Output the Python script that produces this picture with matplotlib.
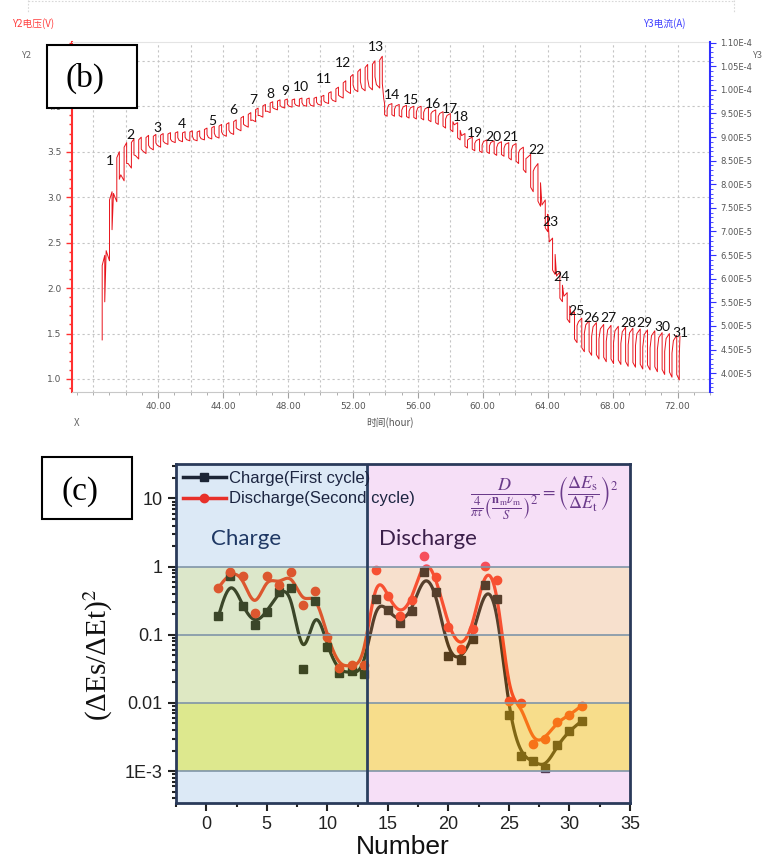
import numpy as np
import matplotlib
matplotlib.use('Agg')
import matplotlib.pyplot as plt
from matplotlib.patches import Rectangle
from matplotlib.lines import Line2D
from matplotlib.ticker import MultipleLocator, FixedLocator, FuncFormatter, LogLocator, NullFormatter

plt.rcParams['mathtext.fontset'] = 'stix'

# ---------------- data: panel (b) GITT voltage profile (one entry per pulse) ----------------
charge_t = [36.55, 37.00, 37.45, 37.90, 38.35, 38.80, 39.25, 39.70, 40.15, 40.60, 41.05, 41.50,
            41.95, 42.40, 42.85, 43.30, 43.75, 44.20, 44.65, 45.10, 45.55, 46.00, 46.45, 46.90,
            47.35, 47.80, 48.25, 48.70, 49.15, 49.60, 50.05, 50.50, 50.95, 51.40, 51.85, 52.30,
            52.75, 53.20, 53.65]
charge_high = [2.36, 3.06, 3.50, 3.60, 3.64, 3.66, 3.68, 3.69, 3.70, 3.71, 3.72, 3.72,
               3.73, 3.73, 3.76, 3.78, 3.80, 3.82, 3.85, 3.89, 3.93, 3.98, 4.02, 4.05,
               4.07, 4.08, 4.08, 4.09, 4.09, 4.10, 4.12, 4.16, 4.21, 4.28, 4.35, 4.41,
               4.46, 4.50, 4.55]
charge_low = [1.43, 2.30, 2.95, 3.18, 3.32, 3.42, 3.48, 3.52, 3.55, 3.58, 3.60, 3.61,
              3.62, 3.62, 3.63, 3.64, 3.65, 3.67, 3.69, 3.73, 3.77, 3.83, 3.88, 3.93,
              3.96, 3.98, 3.99, 4.00, 4.00, 4.00, 4.01, 4.03, 4.05, 4.09, 4.14, 4.16,
              4.17, 4.18, 4.20]
disch_t = [53.95, 54.40, 54.85, 55.30, 55.75, 56.20, 56.65, 57.10, 57.55, 58.00, 58.45, 58.90,
           59.35, 59.80, 60.25, 60.70, 61.15, 61.60, 62.05, 62.50, 62.95, 63.40, 63.85, 64.30,
           64.75, 65.20, 65.65, 66.10, 66.55, 67.00, 67.45, 67.90, 68.35, 68.80, 69.25, 69.70,
           70.15, 70.60, 71.05, 71.50, 71.95]
disch_high = [4.03, 4.03, 4.02, 4.01, 4.00, 4.00, 3.99, 3.96, 3.94, 3.92, 3.82, 3.70,
              3.66, 3.64, 3.63, 3.62, 3.61, 3.60, 3.59, 3.55, 3.47, 3.37, 2.97, 2.55,
              2.18, 1.95, 1.74, 1.67, 1.64, 1.62, 1.60, 1.59, 1.58, 1.57, 1.56, 1.55,
              1.54, 1.53, 1.51, 1.50, 1.48]
disch_low = [3.89, 3.89, 3.88, 3.87, 3.86, 3.85, 3.83, 3.80, 3.76, 3.72, 3.63, 3.54,
             3.51, 3.49, 3.48, 3.46, 3.45, 3.41, 3.37, 3.27, 3.06, 2.90, 2.62, 2.15,
             1.85, 1.62, 1.40, 1.30, 1.26, 1.22, 1.19, 1.17, 1.16, 1.14, 1.13, 1.11,
             1.10, 1.08, 1.05, 1.02, 0.99]
end_hour, end_volt = 72.15, 1.47
label_num = list(range(1, 32))
label_hour = [37.03, 38.30, 39.94, 41.44, 43.35, 44.62, 45.85, 46.94, 47.80, 48.78, 50.20,
              51.38, 53.44, 54.38, 55.55, 56.92, 57.95, 58.67, 59.49, 60.68, 61.71, 63.32,
              64.17, 64.84, 65.75, 66.71, 67.75, 68.97, 69.95, 71.08, 72.15]
label_volt = [3.40, 3.68, 3.76, 3.80, 3.84, 3.96, 4.07, 4.14, 4.17, 4.21, 4.30, 4.48, 4.65,
              4.12, 4.07, 4.02, 3.97, 3.88, 3.71, 3.66, 3.66, 3.52, 2.73, 2.12, 1.75, 1.67,
              1.67, 1.62, 1.62, 1.57, 1.51]

# ---------------- data: panel (c) ----------------
number = list(range(1, 32))
charge_ratio = [0.186, 0.72, 0.26, 0.14, 0.215, 0.43, 0.49, 0.031, 0.31, 0.066, 0.0273,
                0.029, 0.0268, 0.34, 0.23, 0.15, 0.22, 0.84, 0.43, 0.049, 0.043, 0.086,
                0.53, 0.33, 0.0066, 0.00166, 0.0014, 0.0011, 0.0024, 0.0039, 0.0054]
disch_ratio = [0.49, 0.84, 0.74, 0.21, 0.74, 0.54, 0.84, 0.27, 0.44, 0.093, 0.033, 0.036,
               0.036, 0.88, 0.37, 0.19, 0.32, 1.42, 0.71, 0.128, 0.062, 0.12, 1.02, 0.63,
               0.0108, 0.0099, 0.0025, 0.0030, 0.0053, 0.0066, 0.0091]
x_ticks_c = [0, 5, 10, 15, 20, 25, 30, 35]
y_ticks_c = [1e-3, 1e-2, 1e-1, 1, 10]
y_ticklabels_c = ['1E-3', '0.01', '0.1', '1', '10']
band_edges = [3.4e-4, 1e-3, 1e-2, 1e-1, 1, 32]
divider_x = 13.3

W, H = 765, 866
fig = plt.figure(figsize=(W / 100, H / 100), dpi=100)


def fbox(x0, y0, x1, y1):
    return [x0 / W, 1 - y1 / H, (x1 - x0) / W, (y1 - y0) / H]


CJK = ['Noto Sans CJK SC', 'DejaVu Sans']

# faint frame of the instrument screenshot
fig.add_artist(Line2D([28 / W, 734 / W], [1 - 1 / H, 1 - 1 / H], transform=fig.transFigure,
                      color='#d8d8d8', lw=0.8, ls=(0, (1.5, 1.5))))
for xx in (28, 734):
    fig.add_artist(Line2D([xx / W, xx / W], [1, 1 - 12 / H], transform=fig.transFigure,
                          color='#d8d8d8', lw=0.8, ls=(0, (1.5, 1.5))))

# ================= panel (b) =================
ax = fig.add_axes(fbox(72, 41.7, 710, 392))
ax.set_xlim(34.69, 74.0)
ax.set_ylim(0.857, 4.71)

# pulse shape (fractions of one period) used to draw every read pulse
PER = 0.45
ON = 0.35 * PER
px, py = [], []
n_c = len(charge_t)
for i in range(n_c):
    t, hi, lo = charge_t[i], charge_high[i], charge_low[i]
    d = hi - lo
    px += [t, t, t + ON, t + ON]
    py += [lo, hi - 0.12 * d, hi, hi - 0.55 * d]
    if i + 1 < n_c:
        nl = charge_low[i + 1]
        px += [t + ON + 0.3 * (PER - ON)]
        py += [nl + 0.12 * d]
px += [53.81, 53.90]
py += [4.25, 4.08]
n_d = len(disch_t)
for i in range(n_d):
    t, hi, lo = disch_t[i], disch_high[i], disch_low[i]
    d = hi - lo
    px += [t, t, t + ON, t + ON]
    py += [hi, lo + 0.12 * d, lo, lo + 0.55 * d]
    if i + 1 < n_d:
        nh = disch_high[i + 1]
        px += [t + ON + 0.3 * (PER - ON)]
        py += [nh - 0.12 * d]
px += [end_hour]
py += [end_volt]
ax.plot(px, py, color='#e8141c', lw=0.7, zorder=3)

for n, h, v in zip(label_num, label_hour, label_volt):
    ax.text(h, v, str(n), fontsize=10, ha='center', va='center', color='#111111',
            family='Lato', zorder=4)

for g in np.arange(36, 73, 2):
    ax.axvline(g, color='#c4c4c4', lw=0.8, ls=(0, (2, 2.5)), zorder=1)
for g in np.arange(1.0, 4.6, 0.5):
    ax.axhline(g, color='#c4c4c4', lw=0.8, ls=(0, (2, 2.5)), zorder=1)

ax.xaxis.set_major_locator(FixedLocator([40, 44, 48, 52, 56, 60, 64, 68, 72]))
ax.xaxis.set_minor_locator(MultipleLocator(1))
ax.xaxis.set_major_formatter(FuncFormatter(lambda v, p: f'{v:.2f}'))
ax.tick_params(axis='x', which='both', direction='out', colors='#a0a0a0',
               labelcolor='#555555', labelsize=6.5, length=4)
ax.tick_params(axis='x', which='minor', length=2.5)
ax.yaxis.set_major_locator(FixedLocator([1.0, 1.5, 2.0, 2.5, 3.0, 3.5, 4.0, 4.5]))
ax.yaxis.set_minor_locator(MultipleLocator(0.1))
ax.yaxis.set_major_formatter(FuncFormatter(lambda v, p: f'{v:.1f}'))
ax.tick_params(axis='y', which='both', direction='out', colors='#ff3030',
               labelcolor='#555555', labelsize=6.5, length=4, width=1)
ax.tick_params(axis='y', which='minor', length=2.5)
ax.spines['left'].set_color('#ff3030')
ax.spines['left'].set_linewidth(1.5)
ax.spines['bottom'].set_color('#c8c8c8')
ax.spines['top'].set_color('#e4e4e4')
ax.spines['right'].set_visible(False)

ax3 = ax.twinx()
ax3.set_ylim(3.6e-5, 1.102e-4)
ax3.yaxis.set_major_locator(MultipleLocator(5e-6))
ax3.yaxis.set_minor_locator(MultipleLocator(1e-6))
ax3.yaxis.set_major_formatter(FuncFormatter(lambda v, p: f'{v:.2E}'.replace('E-0', 'E-')))
ax3.tick_params(axis='y', which='both', direction='out', colors='#3030ff',
                labelcolor='#555555', labelsize=6, length=4)
ax3.tick_params(axis='y', which='minor', length=2)
for s in ['left', 'top', 'bottom']:
    ax3.spines[s].set_visible(False)
ax3.spines['right'].set_color('#3030ff')
ax3.spines['right'].set_linewidth(1.5)

fig.text(12 / W, 1 - 24 / H, 'Y2电压(V)', color='#ff4040', fontsize=7, family=CJK, va='center')
fig.text(22 / W, 1 - 55 / H, 'Y2', color='#666666', fontsize=6.5, family=CJK, va='center')
fig.text(664 / W, 1 - 24 / H, 'Y3电流(A)', color='#4040ff', fontsize=7, family=CJK,
         va='center', ha='center')
fig.text(758 / W, 1 - 55 / H, 'Y3', color='#666666', fontsize=6.5, family=CJK, va='center', ha='center')
fig.text(77 / W, 1 - 423 / H, 'X', color='#666666', fontsize=7, family=CJK, va='center', ha='center')
fig.text(390 / W, 1 - 423 / H, '时间(hour)', color='#555555', fontsize=7, family=CJK,
         va='center', ha='center')

# ================= panel (c) =================
axc = fig.add_axes(fbox(176, 464, 630, 803))
axc.set_yscale('log')
axc.set_xlim(-2.5, 35)
axc.set_ylim(band_edges[0], band_edges[-1])


def bspline(x, y, n=24):
    lx = np.concatenate([[x[0]] * 2, x, [x[-1]] * 2]).astype(float)
    ly = np.concatenate([[y[0]] * 2, y, [y[-1]] * 2]).astype(float)
    t = np.linspace(0, 1, n, endpoint=False)
    b0 = (1 - t) ** 3 / 6
    b1 = (3 * t ** 3 - 6 * t ** 2 + 4) / 6
    b2 = (-3 * t ** 3 + 3 * t ** 2 + 3 * t + 1) / 6
    b3 = t ** 3 / 6
    xs, ys = [], []
    for j in range(len(lx) - 3):
        xs.append(b0 * lx[j] + b1 * lx[j + 1] + b2 * lx[j + 2] + b3 * lx[j + 3])
        ys.append(b0 * ly[j] + b1 * ly[j + 1] + b2 * ly[j + 2] + b3 * ly[j + 3])
    xs.append([x[-1]])
    ys.append([y[-1]])
    return np.concatenate(xs), np.concatenate(ys)


BLACK = '#111111'
RED = '#ff2a1a'
nx = np.array(number, float)
sx, sy = bspline(nx, np.log10(charge_ratio))
axc.plot(sx, 10 ** sy, color=BLACK, lw=2.3, zorder=2)
sx, sy = bspline(nx, np.log10(disch_ratio))
axc.plot(sx, 10 ** sy, color=RED, lw=2.3, zorder=2)
axc.plot(number, charge_ratio, ls='none', marker='s', ms=5.5, color=BLACK, zorder=2)
axc.plot(number, disch_ratio, ls='none', marker='o', ms=6, color=RED, zorder=2)

# translucent coloured bands drawn over the data (tints the curves as in the original)
charge_band_rgb = [(221, 234, 246), (222, 233, 143), (223, 233, 196), (221, 232, 203), (221, 234, 246)]
disch_band_rgb = [(247, 224, 248), (248, 222, 140), (248, 223, 190), (248, 225, 206), (247, 224, 248)]
band_alpha = [0.32, 0.5, 0.32, 0.32, 0.32]


def tint(rgb, a):
    c = (np.array(rgb) / 255.0 - (1 - a)) / a
    return tuple(np.clip(c, 0, 1))


for k in range(5):
    y0, y1 = band_edges[k], band_edges[k + 1]
    a = band_alpha[k]
    axc.add_patch(Rectangle((-2.5, y0), divider_x + 2.5, y1 - y0, facecolor=tint(charge_band_rgb[k], a),
                            alpha=a, lw=0, zorder=3))
    axc.add_patch(Rectangle((divider_x, y0), 35 - divider_x, y1 - y0, facecolor=tint(disch_band_rgb[k], a),
                            alpha=a, lw=0, zorder=3))
for e in band_edges[1:-1]:
    axc.axhline(e, color='#8095a8', lw=1.2, zorder=4)
axc.axvline(divider_x, color='#2a3f5f', lw=2, zorder=4)

for s in axc.spines.values():
    s.set_color('#2a3a5a')
    s.set_linewidth(2)
    s.set_zorder(5)

axc.set_xticks(x_ticks_c)
axc.xaxis.set_minor_locator(MultipleLocator(2.5))
axc.set_yticks(y_ticks_c)
axc.set_yticklabels(y_ticklabels_c)
axc.yaxis.set_minor_locator(LogLocator(base=10, subs=np.arange(2, 10)))
axc.yaxis.set_minor_formatter(NullFormatter())
axc.tick_params(which='both', direction='out', colors='#222222', labelsize=13, width=1.5)
axc.tick_params(which='major', length=6)
axc.tick_params(which='minor', length=3)
for lab in axc.get_xticklabels() + axc.get_yticklabels():
    lab.set_family('Liberation Sans')
axc.set_xlabel('Number', fontsize=19, family='Liberation Sans', labelpad=1, color='#111111')

fig.text(98 / W, 1 - 655 / H, '(ΔEs/ΔEt)$^{2}$', rotation=90, fontsize=21,
         family='Liberation Serif', ha='center', va='center', color='#111111')

handles = [Line2D([], [], color='#1c2535', lw=2.5, marker='s', ms=5.5),
           Line2D([], [], color='#e8302a', lw=2.5, marker='o', ms=6)]
leg = axc.legend(handles, ['Charge(First cycle)', 'Discharge(Second cycle)'], loc='upper left',
                 bbox_to_anchor=(0, 1), borderaxespad=0, borderpad=0.4, frameon=False,
                 handlelength=2.6, handletextpad=0.2, labelspacing=0.35,
                 prop={'family': 'Liberation Sans', 'size': 12})
leg.set_zorder(10)
for t in leg.get_texts():
    t.set_color('#1c2541')

fig.text(246 / W, 1 - 539 / H, 'Charge', fontsize=16, family='Lato', color='#1f3864',
         ha='center', va='center')
fig.text(428 / W, 1 - 539 / H, 'Discharge', fontsize=16, family='Lato', color='#3b1f4a',
         ha='center', va='center')
fig.text(544 / W, 1 - 498 / H,
         r'$\dfrac{D}{\frac{4}{\pi\tau}\left(\frac{\mathbf{n}_\mathrm{m}\nu_\mathrm{m}}{S}\right)^{2}}'
         r'=\left(\dfrac{\Delta E_\mathrm{s}}{\Delta E_\mathrm{t}}\right)^{2}$',
         fontsize=13, color='#6a3a8a', ha='center', va='center')

# panel labels
for (x0, y0, x1, y1, tx, ty, s) in [(47, 45, 137, 108, 85, 78, '(b)'), (42, 457, 132, 519, 80, 492, '(c)')]:
    fig.add_artist(Rectangle((x0 / W, 1 - y1 / H), (x1 - x0) / W, (y1 - y0) / H,
                             transform=fig.transFigure, facecolor='white', edgecolor='black',
                             lw=1.5, zorder=20))
    fig.text(tx / W, 1 - ty / H, s, fontsize=24, family='Liberation Serif',
             ha='center', va='center', zorder=21)

fig.savefig('out.png', dpi=100)
